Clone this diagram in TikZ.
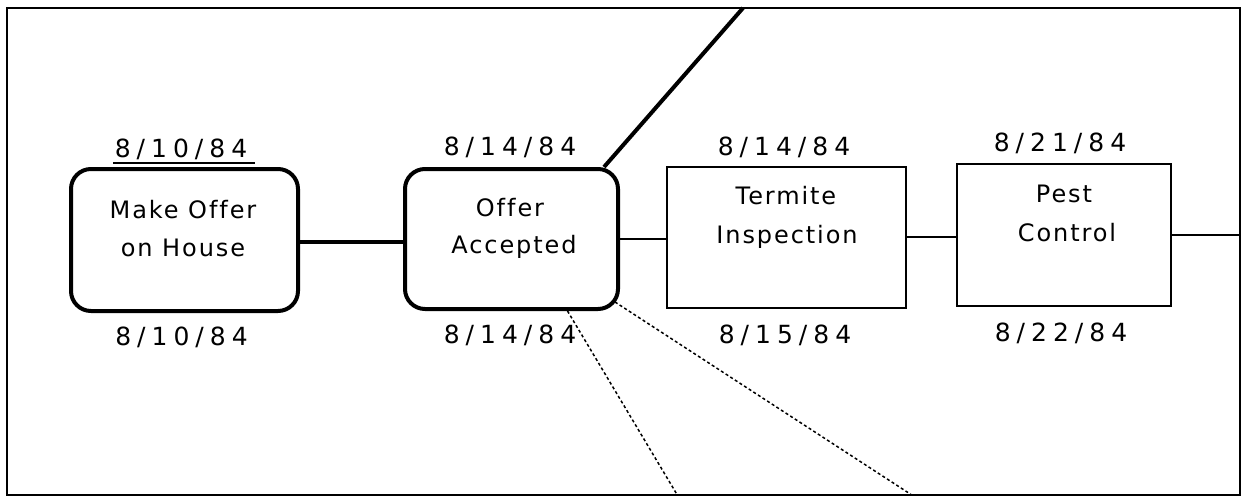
\documentclass[tikz,border=0pt]{standalone}
\usepackage{fontspec}
\setmainfont{DejaVu Sans}
\newfontfamily\lblfont[LetterSpace=8,Ligatures=NoCommon]{DejaVu Sans}
\newfontfamily\dtfont[LetterSpace=24,Ligatures=NoCommon]{DejaVu Sans}
\usetikzlibrary{calc}
\begin{document}
\begin{tikzpicture}[x=1pt,y=-1pt,
  roundbox/.style={draw,line width=4pt,rounded corners=20pt,inner sep=0pt},
  plainbox/.style={draw,line width=2pt,inner sep=0pt},
  lbl/.style={anchor=base,inner sep=0pt,font=\lblfont\fontsize{24}{28}\selectfont},
  dt/.style={anchor=base,inner sep=0pt,font=\dtfont\fontsize{25}{28}\selectfont},
  thickline/.style={line width=4pt},
  thinline/.style={line width=2pt},
  dotline/.style={line width=1.5pt,dash pattern=on 3pt off 2.5pt},
]
\useasboundingbox (0,0) rectangle (1241,496);
\node[draw,line width=2pt,inner sep=0pt,minimum width=1232.5pt,minimum height=486.5pt] (frame) at (623.25,251.25) {};
% boxes
\node[roundbox,minimum width=227pt,minimum height=142pt] (b1) at (184.5,240) {};
\node[roundbox,minimum width=213pt,minimum height=140pt] (b2) at (511.5,239) {};
\node[plainbox,minimum width=239pt,minimum height=141pt] (b3) at (786.5,237) {};
\node[plainbox,minimum width=214pt,minimum height=142pt] (b4) at (1064,235) {};
% connectors
\coordinate (c1) at ($(b1.east)+(0,2)$);
\draw[thickline] (c1) -- (c1 -| b2.west);
\draw[thinline] (b2.east) -- (b2.east -| b3.west);
\draw[thinline] (b3.east) -- (b3.east -| b4.west);
\coordinate (rEnd) at (1239.5,235);
\draw[thinline] (b4.east) -- (rEnd);
\coordinate (tEnd) at (743,8);
\draw[thickline] ($(b2.north east)+(-16,0)$) -- (tEnd);
\coordinate (d1) at (677,494.5);
\draw[dotline] ($(b2.south)+(56,0)$) -- (d1);
\coordinate (d2) at (911,494.5);
\draw[dotline] ($(b2.south east)+(-5,-9)$) -- (d2);
% labels
\node[lbl] (t1a) at (183,218) {Make Offer};
\node[lbl] (t1b) at (183,256) {on House};
\node[lbl] (t2a) at (510,216) {Offer};
\node[lbl] (t2b) at (514,253) {Accepted};
\node[lbl] (t3a) at (786,204) {Termite};
\node[lbl] (t3b) at (787,243) {Inspection};
\node[lbl] (t4a) at (1064,202) {Pest};
\node[lbl] (t4b) at (1067,241) {Control};
% dates
\node[dt] (s1) at (181,157) {8/10/84};
\node[dt] (e1) at (181.5,345) {8/10/84};
\node[dt] (s2) at (510,155) {8/14/84};
\node[dt] (e2) at (510,343) {8/14/84};
\node[dt] (s3) at (784,155) {8/14/84};
\node[dt] (e3) at (785,343) {8/15/84};
\node[dt] (s4) at (1060,151) {8/21/84};
\node[dt] (e4) at (1061,341) {8/22/84};
\coordinate (u1) at (113,163);
\coordinate (u2) at (255,163);
\draw[thinline] (u1) -- (u2);
\end{tikzpicture}
\end{document}
